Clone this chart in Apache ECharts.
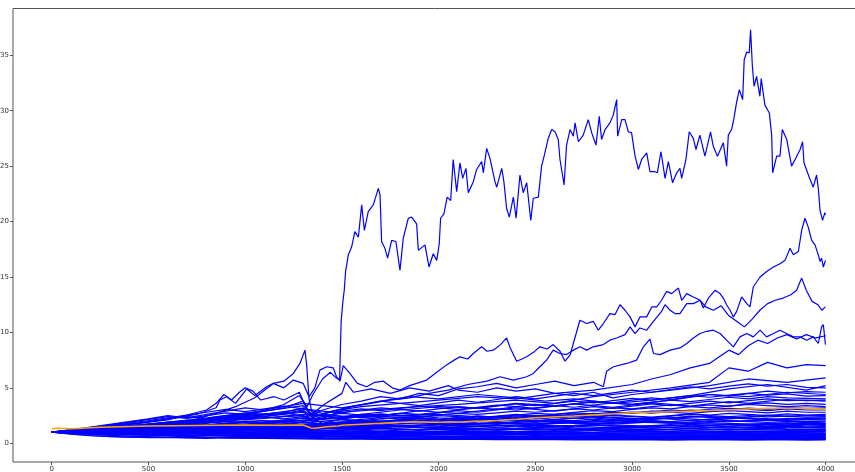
<!DOCTYPE html>
<html>
<head>
<meta charset="utf-8">
<script src="https://cdn.jsdelivr.net/npm/echarts@6/dist/echarts.min.js"></script>
<style>
  html, body { margin: 0; padding: 0; background: #fff; }
  #chart { width: 855px; height: 472px; }
</style>
</head>
<body>
<div id="chart"></div>
<script>
// Simulated price paths (step, value). Band paths share a 100-step grid.
const bandSteps = [0,100,200,300,400,500,600,700,800,900,1000,1100,1200,1300,1400,1500,1600,1700,1800,1900,2000,2100,2200,2300,2400,2500,2600,2700,2800,2900,3000,3100,3200,3300,3400,3500,3600,3700,3800,3900,4000];

const band01 = [1.0,0.85,0.7,0.62,0.55,0.5,0.52,0.48,0.45,0.5,0.47,0.44,0.42,0.4,0.38,0.4,0.37,0.36,0.38,0.35,0.34,0.36,0.35,0.33,0.34,0.32,0.33,0.31,0.32,0.3,0.31,0.3,0.29,0.3,0.31,0.3,0.29,0.3,0.3,0.29,0.3];
const band02 = [1.0,0.9,0.8,0.72,0.65,0.6,0.58,0.62,0.55,0.5,0.52,0.48,0.5,0.46,0.44,0.42,0.45,0.43,0.4,0.42,0.4,0.38,0.4,0.37,0.38,0.36,0.4,0.38,0.36,0.37,0.35,0.38,0.36,0.34,0.36,0.35,0.37,0.35,0.34,0.36,0.35];
const band03 = [1.0,0.95,0.88,0.8,0.85,0.78,0.7,0.66,0.7,0.64,0.6,0.62,0.58,0.55,0.5,0.48,0.52,0.5,0.47,0.45,0.48,0.46,0.44,0.42,0.45,0.43,0.41,0.44,0.42,0.4,0.43,0.41,0.39,0.42,0.4,0.41,0.38,0.4,0.42,0.39,0.4];
const band04 = [1.0,1.05,0.95,0.9,0.82,0.78,0.8,0.74,0.7,0.72,0.68,0.65,0.6,0.62,0.58,0.6,0.56,0.54,0.57,0.55,0.52,0.5,0.53,0.51,0.49,0.5,0.48,0.5,0.47,0.49,0.46,0.48,0.47,0.45,0.48,0.46,0.44,0.46,0.45,0.47,0.45];
const band05 = [1.0,0.92,0.85,0.78,0.74,0.7,0.72,0.66,0.7,0.68,0.65,0.7,0.66,0.62,0.65,0.6,0.62,0.58,0.6,0.57,0.55,0.58,0.56,0.53,0.55,0.52,0.54,0.56,0.53,0.5,0.52,0.55,0.52,0.5,0.53,0.51,0.49,0.52,0.5,0.51,0.5];
const band06 = [1.0,1.1,1.05,0.98,0.92,0.95,0.88,0.85,0.9,0.82,0.8,0.84,0.78,0.75,0.72,0.76,0.7,0.68,0.72,0.66,0.64,0.68,0.65,0.62,0.6,0.63,0.6,0.58,0.62,0.59,0.57,0.6,0.58,0.56,0.59,0.57,0.55,0.58,0.56,0.54,0.55];
const band07 = [1.0,0.98,0.9,0.86,0.8,0.76,0.72,0.75,0.7,0.66,0.68,0.64,0.62,0.66,0.63,0.6,0.64,0.62,0.65,0.63,0.6,0.62,0.66,0.64,0.61,0.63,0.6,0.65,0.62,0.6,0.63,0.61,0.64,0.62,0.6,0.63,0.61,0.59,0.62,0.6,0.6];
const band08 = [1.0,1.08,1.15,1.1,1.02,0.98,1.05,0.96,0.92,0.95,0.9,0.86,0.9,0.84,0.8,0.85,0.82,0.78,0.8,0.76,0.8,0.78,0.74,0.77,0.75,0.72,0.76,0.74,0.71,0.74,0.72,0.75,0.73,0.7,0.72,0.74,0.71,0.73,0.7,0.72,0.7];
const band09 = [1.0,0.94,0.9,0.95,0.88,0.84,0.9,0.86,0.82,0.85,0.8,0.78,0.82,0.79,0.76,0.8,0.84,0.8,0.77,0.8,0.78,0.82,0.79,0.76,0.8,0.78,0.75,0.79,0.77,0.8,0.78,0.75,0.78,0.76,0.74,0.77,0.75,0.78,0.76,0.74,0.75];
const band10 = [1.0,1.05,1.12,1.2,1.15,1.1,1.18,1.12,1.05,1.08,1.02,0.98,1.03,0.98,0.95,0.92,0.96,0.93,0.9,0.94,0.9,0.88,0.92,0.89,0.86,0.9,0.87,0.85,0.88,0.85,0.83,0.86,0.84,0.82,0.85,0.83,0.81,0.84,0.82,0.8,0.8];
const band11 = [1.0,0.96,1.02,0.98,1.05,1.0,0.95,1.0,1.06,1.02,0.98,1.04,1.0,0.96,1.0,0.97,0.94,0.98,0.95,0.99,0.96,0.93,0.97,0.94,0.91,0.95,0.92,0.96,0.93,0.9,0.94,0.92,0.89,0.93,0.91,0.88,0.92,0.9,0.93,0.91,0.9];
const band12 = [1.0,1.1,1.2,1.15,1.25,1.3,1.22,1.28,1.2,1.15,1.22,1.18,1.12,1.08,1.15,1.1,1.05,1.1,1.06,1.02,1.08,1.04,1.0,1.05,1.02,0.98,1.03,1.0,0.97,1.02,0.99,1.03,1.0,0.97,1.01,0.98,1.02,0.99,1.01,0.98,1.0];
const band13 = [1.0,0.92,0.88,0.94,0.9,0.96,0.92,0.98,1.04,1.0,0.95,1.0,1.05,1.1,1.04,1.08,1.02,0.98,1.04,1.0,1.06,1.02,1.08,1.12,1.06,1.1,1.05,1.1,1.14,1.08,1.12,1.06,1.1,1.14,1.08,1.12,1.07,1.11,1.08,1.12,1.1];
const band14 = [1.0,1.12,1.25,1.35,1.28,1.4,1.5,1.42,1.35,1.42,1.5,1.45,1.38,1.32,1.4,1.35,1.3,1.36,1.28,1.22,1.3,1.25,1.2,1.28,1.24,1.18,1.25,1.22,1.17,1.24,1.2,1.26,1.22,1.18,1.24,1.2,1.25,1.22,1.19,1.22,1.2];
const band15 = [1.0,0.95,1.02,1.08,1.0,1.06,1.12,1.05,1.1,1.18,1.12,1.06,1.12,1.2,1.15,1.22,1.16,1.1,1.18,1.25,1.2,1.14,1.2,1.27,1.22,1.3,1.24,1.18,1.25,1.32,1.27,1.2,1.26,1.33,1.28,1.24,1.3,1.35,1.3,1.26,1.3];
const band16 = [1.0,1.08,1.0,1.06,1.14,1.08,1.2,1.28,1.2,1.32,1.4,1.3,1.38,1.46,1.36,1.3,1.38,1.45,1.52,1.42,1.36,1.44,1.5,1.42,1.35,1.42,1.48,1.4,1.34,1.4,1.46,1.38,1.44,1.5,1.42,1.36,1.42,1.46,1.4,1.38,1.4];
const band17 = [1.0,1.15,1.3,1.42,1.55,1.48,1.62,1.7,1.6,1.52,1.6,1.68,1.58,1.5,1.56,1.64,1.55,1.48,1.55,1.62,1.7,1.6,1.52,1.58,1.66,1.56,1.5,1.57,1.62,1.54,1.48,1.55,1.6,1.52,1.46,1.52,1.58,1.5,1.54,1.48,1.5];
const band18 = [1.0,1.04,1.1,1.02,0.96,1.02,1.1,1.18,1.1,1.2,1.3,1.22,1.32,1.42,1.35,1.45,1.38,1.46,1.55,1.48,1.4,1.48,1.56,1.64,1.55,1.48,1.56,1.62,1.7,1.6,1.52,1.6,1.68,1.58,1.64,1.7,1.62,1.56,1.64,1.58,1.6];
const band19 = [1.0,1.12,1.2,1.3,1.22,1.35,1.45,1.55,1.48,1.6,1.7,1.62,1.55,1.62,1.72,1.82,1.75,1.66,1.74,1.85,1.78,1.7,1.78,1.88,1.8,1.72,1.8,1.9,1.82,1.74,1.82,1.92,1.85,1.78,1.86,1.8,1.72,1.78,1.84,1.76,1.75];
const band20 = [1.0,0.94,1.0,1.08,1.02,1.1,1.2,1.12,1.05,1.12,1.22,1.3,1.24,1.35,1.45,1.38,1.5,1.6,1.52,1.62,1.55,1.68,1.78,1.7,1.82,1.75,1.88,1.8,1.72,1.8,1.9,2.0,1.92,1.85,1.95,2.05,1.96,1.88,1.95,1.86,1.9];
const band21 = [1.0,1.1,1.22,1.15,1.3,1.42,1.55,1.48,1.62,1.75,1.68,1.8,1.92,1.85,1.75,1.85,1.98,1.9,1.8,1.72,1.82,1.95,1.85,1.78,1.88,2.0,2.1,2.0,1.92,2.02,2.12,2.05,1.96,2.06,2.15,2.05,1.98,2.08,2.0,1.95,2.0];
const band22 = [1.0,1.05,0.98,1.05,1.12,1.2,1.12,1.22,1.3,1.25,1.35,1.28,1.38,1.5,1.42,1.52,1.62,1.55,1.65,1.58,1.7,1.8,1.72,1.85,1.95,1.88,2.0,1.92,2.05,2.15,2.05,2.18,2.28,2.2,2.1,2.2,2.3,2.22,2.15,2.25,2.2];
const band23 = [1.0,1.15,1.28,1.4,1.55,1.68,1.8,1.7,1.85,2.0,2.15,2.05,1.95,2.1,2.25,2.15,2.05,2.2,2.35,2.25,2.15,2.3,2.45,2.35,2.25,2.4,2.55,2.45,2.35,2.5,2.4,2.3,2.45,2.6,2.5,2.4,2.5,2.38,2.45,2.35,2.4];
const band24 = [1.0,1.02,1.1,1.18,1.1,1.2,1.3,1.4,1.32,1.42,1.55,1.45,1.58,1.7,1.6,1.75,1.88,1.78,1.92,2.05,1.95,2.1,2.0,2.15,2.3,2.2,2.35,2.25,2.4,2.55,2.45,2.35,2.5,2.65,2.55,2.7,2.6,2.5,2.65,2.55,2.6];
const band25 = [1.0,1.12,1.25,1.38,1.3,1.45,1.6,1.75,1.65,1.82,2.0,1.9,2.1,2.25,2.1,2.0,2.15,2.3,2.2,2.35,2.5,2.4,2.3,2.45,2.6,2.5,2.4,2.55,2.7,2.6,2.75,2.9,2.8,2.7,2.85,2.95,2.85,2.75,2.9,2.8,2.8];
const band26 = [1.0,0.95,1.05,1.15,1.08,1.2,1.32,1.25,1.38,1.5,1.62,1.55,1.7,1.85,1.75,1.9,2.05,1.95,2.1,2.25,2.15,2.3,2.2,2.4,2.55,2.45,2.6,2.75,2.65,2.8,2.7,2.85,3.0,2.9,3.05,3.15,3.05,2.95,3.1,3.0,3.0];
const band27 = [1.0,1.15,1.3,1.45,1.6,1.75,1.9,2.05,1.95,2.15,2.35,2.25,2.45,2.6,2.45,2.3,2.5,2.65,2.5,2.4,2.55,2.7,2.6,2.75,2.9,2.8,2.95,3.1,3.0,3.2,3.1,3.3,3.45,3.3,3.2,3.35,3.5,3.4,3.3,3.4,3.3];
const band28 = [1.0,1.08,1.0,1.1,1.22,1.15,1.28,1.4,1.32,1.45,1.6,1.5,1.65,1.55,1.7,1.85,1.75,1.9,2.05,2.2,2.1,2.3,2.45,2.35,2.55,2.7,2.6,2.8,2.95,2.85,3.05,3.2,3.1,3.3,3.45,3.35,3.55,3.65,3.5,3.6,3.5];
const band29 = [1.0,1.2,1.4,1.6,1.5,1.7,1.9,2.1,2.0,2.25,2.5,2.35,2.2,2.4,2.6,2.45,2.3,2.5,2.7,2.55,2.75,2.95,2.8,3.0,3.2,3.05,2.9,3.1,3.3,3.15,3.35,3.55,3.4,3.6,3.8,3.65,3.85,4.0,3.85,3.9,3.8];
const band30 = [1.0,1.1,1.25,1.15,1.3,1.45,1.35,1.5,1.65,1.8,1.7,1.9,2.1,2.0,2.2,2.4,2.3,2.5,2.7,2.6,2.8,2.7,2.9,3.1,3.0,3.2,3.4,3.25,3.45,3.65,3.5,3.7,3.9,3.75,3.95,4.15,4.0,4.2,4.1,4.05,4.0];
const band31 = [1.0,1.15,1.35,1.55,1.75,1.95,2.2,2.4,2.25,2.5,2.75,2.6,2.85,3.1,2.9,2.75,3.0,3.2,3.05,2.9,3.1,3.3,3.15,3.35,3.55,3.4,3.6,3.8,3.65,3.85,4.05,3.9,4.1,4.3,4.15,4.35,4.5,4.35,4.45,4.25,4.3];
const band32 = [1.0,1.05,1.15,1.3,1.2,1.35,1.5,1.65,1.55,1.75,1.95,1.85,2.05,2.3,2.15,2.4,2.6,2.5,2.7,2.95,2.8,3.0,3.2,3.05,3.3,3.5,3.35,3.55,3.8,3.65,3.9,4.1,3.95,4.2,4.4,4.25,4.5,4.7,4.55,4.65,4.6];
const band33 = [1.0,1.2,1.45,1.7,1.95,2.2,2.5,2.3,2.6,2.9,3.2,3.0,3.3,3.6,3.4,3.2,3.5,3.8,3.6,3.4,3.65,3.9,3.7,3.95,4.2,4.0,4.25,4.5,4.3,4.55,4.8,4.6,4.85,5.1,4.9,5.15,5.35,5.15,5.3,5.05,5.0];
const band34 = [1.0,0.9,0.95,0.85,0.8,0.84,0.78,0.74,0.78,0.72,0.7,0.74,0.7,0.66,0.62,0.66,0.7,0.66,0.63,0.67,0.64,0.61,0.65,0.68,0.64,0.62,0.66,0.63,0.6,0.64,0.67,0.64,0.61,0.65,0.62,0.66,0.63,0.6,0.64,0.66,0.65];
const band35 = [1.0,1.1,1.02,1.12,1.05,0.98,1.06,1.0,0.94,1.0,0.95,0.9,0.96,0.92,0.88,0.93,0.9,0.86,0.91,0.88,0.92,0.89,0.86,0.9,0.87,0.84,0.88,0.85,0.89,0.86,0.83,0.87,0.84,0.88,0.85,0.82,0.86,0.84,0.87,0.85,0.85];
const band36 = [1.0,0.93,0.97,0.9,0.86,0.92,0.88,0.94,0.9,0.86,0.9,0.95,0.91,0.87,0.92,0.97,0.93,0.98,1.02,0.97,0.93,0.98,1.03,0.99,0.95,1.0,1.05,1.01,0.97,1.02,1.06,1.02,0.98,1.03,1.07,1.03,0.99,1.04,1.08,1.05,1.05];
const band37 = [1.0,1.06,1.14,1.08,1.16,1.24,1.18,1.1,1.17,1.25,1.19,1.12,1.2,1.28,1.22,1.15,1.22,1.3,1.24,1.17,1.24,1.31,1.25,1.19,1.26,1.32,1.26,1.2,1.27,1.33,1.27,1.21,1.28,1.34,1.28,1.22,1.28,1.32,1.26,1.23,1.25];
const band38 = [1.0,0.97,1.04,1.12,1.06,1.0,1.07,1.15,1.22,1.16,1.1,1.18,1.26,1.2,1.13,1.2,1.28,1.36,1.3,1.23,1.3,1.38,1.32,1.26,1.34,1.42,1.36,1.3,1.38,1.46,1.4,1.34,1.42,1.5,1.44,1.38,1.45,1.52,1.46,1.42,1.45];
const band39 = [1.0,1.08,1.18,1.28,1.2,1.3,1.4,1.32,1.42,1.52,1.44,1.36,1.45,1.55,1.47,1.4,1.48,1.58,1.5,1.42,1.5,1.6,1.52,1.45,1.54,1.64,1.56,1.48,1.57,1.67,1.59,1.51,1.6,1.7,1.62,1.55,1.64,1.73,1.66,1.72,1.7];
const band40 = [1.0,0.96,1.03,1.1,1.04,1.12,1.2,1.28,1.2,1.3,1.4,1.32,1.42,1.52,1.45,1.38,1.48,1.58,1.5,1.6,1.7,1.62,1.72,1.82,1.74,1.66,1.76,1.86,1.78,1.88,1.98,1.9,1.82,1.92,2.02,1.94,2.04,2.14,2.06,2.12,2.1];
const band41 = [1.0,1.14,1.3,1.46,1.38,1.55,1.72,1.62,1.8,1.98,1.88,1.78,1.9,2.05,1.95,1.82,1.95,2.1,2.0,1.9,2.02,2.18,2.08,1.98,2.1,2.25,2.15,2.05,2.18,2.34,2.24,2.14,2.28,2.44,2.34,2.24,2.38,2.54,2.44,2.52,2.5];
const band42 = [1.0,1.06,1.14,1.24,1.16,1.28,1.4,1.52,1.44,1.58,1.72,1.62,1.76,1.9,1.78,1.68,1.82,1.96,2.1,2.0,2.14,2.28,2.18,2.32,2.46,2.36,2.5,2.64,2.54,2.68,2.82,2.72,2.86,3.0,2.9,3.04,3.18,3.08,3.22,3.16,3.2];
const band43 = [1.0,1.18,1.38,1.6,1.82,2.05,2.3,2.55,2.8,3.05,2.85,3.1,3.35,3.1,2.7,2.9,3.1,2.95,3.15,3.35,3.2,3.05,3.25,3.45,3.3,3.15,3.35,3.55,3.4,3.25,3.45,3.65,3.5,3.35,3.55,3.75,3.6,3.8,3.95,3.85,3.9];
const band44 = [1.0,0.82,0.68,0.6,0.55,0.58,0.52,0.5,0.54,0.49,0.46,0.5,0.47,0.44,0.41,0.44,0.42,0.4,0.43,0.41,0.39,0.42,0.4,0.38,0.41,0.39,0.37,0.4,0.38,0.36,0.39,0.37,0.4,0.38,0.36,0.39,0.37,0.4,0.38,0.39,0.38];
const band45 = [1.0,1.16,1.32,1.46,1.6,1.74,1.66,1.78,1.9,1.8,1.7,1.8,1.72,1.62,1.52,1.6,1.5,1.42,1.5,1.4,1.32,1.4,1.32,1.24,1.32,1.24,1.17,1.24,1.17,1.11,1.18,1.12,1.06,1.13,1.08,1.03,1.1,1.05,1.12,1.1,1.15];
const band46 = [1.0,1.2,1.42,1.66,1.9,2.15,2.4,2.25,2.5,2.75,2.6,2.45,2.6,2.8,2.5,2.3,2.45,2.3,2.15,2.3,2.15,2.02,2.15,2.28,2.15,2.02,2.15,2.28,2.16,2.04,2.16,2.29,2.17,2.05,2.18,2.31,2.2,2.1,2.24,2.26,2.3];

// Paths that leave the band, read at irregular steps.
const pathEarlySpike = [[0,1],[150,1.2],[300,1.5],[450,1.8],[600,2.2],[750,2.6],[850,3.2],[870,3.9],[904,4.2],[950,3.6],[1008,4.9],[1050,4.3],[1111,5.1],[1145,5.4],[1200,5.6],[1249,6.3],[1283,7.2],[1309,8.4],[1318,7.0],[1330,4.0],[1345,2.8],[1400,2.5],[1500,2.7],[1700,2.4],[2000,2.6],[2300,2.3],[2600,2.5],[3000,2.2],[3400,2.4],[3800,2.1],[4000,2.2]];
const pathEarlyHump = [[0,1],[200,1.3],[400,1.7],[600,2.1],[800,3.0],[850,3.6],[890,4.4],[930,3.9],[970,4.6],[1000,5.0],[1040,4.7],[1080,3.9],[1150,4.2],[1200,3.9],[1280,4.6],[1320,3.0],[1360,2.0],[1420,2.4],[1500,2.2],[1700,2.6],[2000,2.3],[2500,2.0],[3000,1.9],[3500,1.7],[4000,1.8]];
const pathMid1 = [[0,1],[300,1.3],[700,1.9],[1000,2.6],[1200,3.2],[1300,3.8],[1340,2.5],[1400,3.4],[1500,4.5],[1520,5.5],[1560,4.6],[1650,4.9],[1750,4.5],[1850,5.0],[1950,4.7],[2050,5.2],[2100,4.8],[2200,4.6],[2300,5.0],[2400,4.7],[2500,4.9],[2600,4.5],[2700,4.3],[2800,4.6],[2900,4.1],[3000,4.4],[3200,4.8],[3400,5.2],[3600,5.8],[3800,5.5],[4000,5.9]];
const pathMid2 = [[0,1],[400,1.4],[800,2.0],[1100,2.4],[1300,2.9],[1350,1.9],[1450,2.6],[1550,3.3],[1700,3.8],[1850,4.2],[2000,4.0],[2200,4.4],[2400,4.1],[2550,3.8],[2700,4.0],[2900,3.6],[3100,3.9],[3300,4.3],[3500,4.9],[3700,5.3],[3900,4.8],[4000,5.2]];
const pathMid3 = [[0,1],[500,1.6],[1000,2.2],[1300,2.5],[1400,1.8],[1600,2.6],[1800,3.0],[2000,3.3],[2200,3.2],[2400,3.6],[2600,3.4],[2800,3.7],[3000,3.5],[3200,3.9],[3400,4.4],[3600,4.2],[3800,4.6],[4000,4.4]];
const pathMid4 = [[0,1],[400,1.5],[800,2.2],[1200,2.8],[1350,2.2],[1500,2.8],[1800,3.2],[2100,3.5],[2400,3.9],[2600,3.6],[2800,4.2],[3000,4.6],[3200,5.0],[3400,5.5],[3500,6.8],[3600,6.5],[3700,7.3],[3800,6.8],[3900,7.1],[4000,7.0]];
const pathHigh2 = [[0,1],[300,1.4],[600,1.8],[900,2.4],[1100,2.9],[1300,3.4],[1350,2.4],[1450,2.9],[1600,3.3],[1800,3.6],[2000,3.9],[2200,4.2],[2400,4.0],[2600,4.5],[2800,4.8],[3000,5.3],[3100,5.8],[3200,6.2],[3300,6.8],[3400,7.2],[3450,7.8],[3500,8.4],[3550,8.0],[3600,8.8],[3650,9.3],[3700,9.0],[3750,9.5],[3800,9.8],[3850,9.4],[3900,9.8],[3950,9.5],[4000,9.7]];
const pathHigh1 = [[0,1],[200,1.15],[400,1.4],[600,1.7],[800,2.1],[1000,2.5],[1200,2.8],[1300,3.2],[1350,2.6],[1400,3.0],[1500,3.5],[1600,3.8],[1700,4.2],[1800,4.0],[1900,4.5],[2000,4.3],[2100,4.9],[2200,5.1],[2300,5.4],[2400,5.0],[2500,5.3],[2600,5.6],[2700,5.2],[2800,5.5],[2851,5.1],[2868,6.5],[2903,6.9],[2972,7.2],[3023,7.5],[3058,8.7],[3092,9.4],[3110,8.1],[3144,8.0],[3196,8.4],[3247,8.6],[3282,9.0],[3316,9.5],[3351,9.9],[3385,10.1],[3420,10.2],[3454,9.9],[3488,9.3],[3523,8.7],[3557,9.6],[3592,9.9],[3626,9.6],[3661,10.2],[3695,9.6],[3730,9.9],[3764,10.2],[3798,9.9],[3833,9.6],[3867,9.6],[3902,9.3],[3936,9.6],[3962,9.0],[3979,10.5],[3988,10.7],[3999,8.9]];
const pathThird = [[0,1],[200,1.2],[400,1.45],[600,1.7],[800,2.0],[1000,2.4],[1200,2.7],[1300,3.0],[1350,2.3],[1450,2.9],[1550,3.3],[1650,3.6],[1750,3.9],[1850,4.1],[1950,4.5],[2050,4.8],[2150,5.3],[2250,5.6],[2317,6.0],[2386,5.7],[2455,6.0],[2489,6.3],[2523,6.9],[2558,7.5],[2592,8.4],[2627,8.1],[2661,8.0],[2696,8.4],[2730,8.7],[2765,8.4],[2799,8.7],[2851,8.9],[2885,9.3],[2920,9.5],[2963,9.8],[2989,10.5],[3015,9.9],[3040,10.4],[3075,10.2],[3110,11.0],[3152,11.9],[3170,12.5],[3196,12.0],[3221,11.7],[3247,11.7],[3282,12.6],[3316,12.6],[3351,12.9],[3380,12.3],[3420,12.0],[3460,12.4],[3500,11.5],[3540,11.0],[3580,10.5],[3620,11.2],[3660,12.0],[3700,12.6],[3740,12.9],[3780,13.1],[3820,13.4],[3850,13.8],[3876,14.9],[3900,13.8],[3930,12.8],[3960,12.5],[3980,12.0],[3999,12.3]];
const pathSecond = [[0,1],[150,1.15],[300,1.3],[450,1.5],[600,1.8],[750,2.2],[850,2.7],[950,3.3],[1050,4.1],[1145,5.4],[1200,5.0],[1249,5.7],[1300,5.4],[1330,4.2],[1360,5.0],[1386,6.6],[1421,6.9],[1455,6.8],[1472,6.0],[1490,5.6],[1507,7.0],[1541,6.3],[1580,5.4],[1628,5.1],[1670,5.5],[1714,5.6],[1760,5.0],[1800,4.8],[1850,5.2],[1886,5.4],[1938,5.7],[1990,6.4],[2041,7.07],[2080,7.5],[2110,7.8],[2150,7.6],[2179,8.1],[2222,8.7],[2250,8.3],[2282,8.4],[2320,8.9],[2351,9.5],[2370,8.6],[2403,7.4],[2430,7.6],[2455,7.8],[2490,8.2],[2523,8.7],[2560,8.5],[2592,8.9],[2627,8.3],[2653,7.4],[2680,8.0],[2696,9.0],[2730,11.1],[2765,10.8],[2799,11.0],[2825,10.2],[2851,10.8],[2885,11.7],[2911,11.6],[2937,12.5],[2963,12.0],[2989,11.4],[3015,10.5],[3040,11.4],[3075,11.4],[3101,12.3],[3127,12.3],[3152,12.9],[3178,13.7],[3204,13.5],[3239,14.0],[3256,12.9],[3282,13.5],[3316,13.2],[3351,12.9],[3368,12.2],[3394,13.1],[3428,13.8],[3454,13.5],[3471,13.1],[3488,12.5],[3506,12.0],[3523,11.4],[3540,11.9],[3566,13.2],[3592,12.6],[3609,12.3],[3626,14.1],[3661,15.0],[3695,15.5],[3730,15.9],[3764,16.2],[3790,16.5],[3816,17.6],[3833,17.0],[3859,17.3],[3876,19.2],[3893,20.3],[3910,19.5],[3928,18.3],[3945,17.9],[3962,17.0],[3971,16.4],[3979,16.7],[3988,15.9],[3999,16.5]];
const pathTop = [[0,1.0],[100,1.1],[250,1.35],[400,1.5],[550,1.75],[700,2.0],[850,2.4],[1000,2.7],[1100,3.0],[1200,3.5],[1280,4.3],[1320,3.3],[1350,4.4],[1400,5.8],[1440,6.4],[1470,5.9],[1488,5.7],[1492,8.5],[1496,11.0],[1505,12.8],[1512,13.8],[1519,15.5],[1533,17.0],[1550,17.7],[1567,19.1],[1585,18.6],[1602,21.5],[1616,19.2],[1636,20.9],[1662,21.5],[1688,23.0],[1697,22.4],[1705,18.2],[1722,17.6],[1736,16.7],[1757,18.3],[1779,18.2],[1800,15.6],[1817,18.5],[1843,20.3],[1860,20.4],[1886,19.8],[1895,17.4],[1929,17.9],[1950,15.9],[1972,17.1],[1990,16.5],[2003,18.0],[2010,20.3],[2027,20.7],[2044,22.2],[2062,21.9],[2075,25.6],[2093,22.7],[2110,25.3],[2124,23.9],[2141,24.8],[2153,22.6],[2179,23.6],[2196,24.7],[2222,25.4],[2231,24.4],[2248,26.6],[2265,25.7],[2291,23.6],[2300,23.1],[2326,24.8],[2337,23.6],[2351,21.2],[2365,20.4],[2386,22.2],[2400,20.3],[2420,24.2],[2437,22.6],[2455,23.5],[2476,20.1],[2489,22.1],[2515,22.2],[2532,25.0],[2549,26.2],[2566,27.5],[2584,28.3],[2601,28.1],[2618,27.4],[2627,25.6],[2648,23.3],[2661,26.9],[2679,28.3],[2696,27.7],[2705,28.9],[2722,27.2],[2747,27.8],[2773,29.2],[2791,28.0],[2813,26.9],[2830,29.5],[2842,27.4],[2860,28.3],[2885,28.9],[2902,29.6],[2920,31.0],[2925,27.7],[2946,29.2],[2963,29.2],[2980,28.1],[2997,28.0],[3014,26.0],[3032,24.7],[3049,25.6],[3075,26.2],[3092,24.5],[3118,24.5],[3130,24.4],[3149,26.3],[3170,23.9],[3187,25.4],[3209,23.5],[3230,24.4],[3247,24.8],[3256,23.9],[3278,25.6],[3295,28.1],[3316,27.5],[3330,26.5],[3350,27.8],[3376,25.9],[3405,28.1],[3419,26.8],[3441,25.9],[3471,27.1],[3488,25.0],[3497,27.8],[3514,28.3],[3526,29.3],[3540,30.8],[3554,31.9],[3571,31.0],[3579,34.6],[3592,35.3],[3605,35.2],[3612,37.3],[3621,34.1],[3630,32.2],[3643,33.1],[3660,31.3],[3667,32.9],[3686,30.5],[3709,29.8],[3721,27.8],[3726,24.4],[3747,25.9],[3764,25.9],[3776,28.3],[3799,27.4],[3824,25.0],[3842,25.6],[3868,26.5],[3881,27.2],[3888,25.3],[3915,24.0],[3936,23.1],[3953,24.2],[3962,23.0],[3971,21.0],[3984,20.1],[3996,20.8],[3999,20.6]];

// Average across all paths.
const meanPath = [[0,1.3],[30,1.35],[100,1.3],[250,1.45],[500,1.55],[750,1.6],[1000,1.65],[1150,1.62],[1300,1.65],[1340,1.38],[1360,1.35],[1420,1.5],[1480,1.55],[1500,1.62],[1600,1.72],[1700,1.8],[1870,1.95],[2000,1.9],[2130,1.95],[2300,2.05],[2411,2.16],[2500,2.3],[2700,2.45],[3000,2.76],[3200,2.85],[3480,3.0],[3600,3.1],[3700,3.16],[3900,3.15],[4000,3.07]];

const xTicks = [0,500,1000,1500,2000,2500,3000,3500,4000];
const yTicks = [0,5,10,15,20,25,30,35];

const bandValues = [band01,band02,band03,band04,band05,band06,band07,band08,band09,band10,band11,band12,band13,band14,band15,band16,band17,band18,band19,band20,band21,band22,band23,band24,band25,band26,band27,band28,band29,band30,band31,band32,band33,band34,band35,band36,band37,band38,band39,band40,band41,band42,band43,band44,band45,band46];
const bandPaths = bandValues.map(vals => vals.map((v, i) => [bandSteps[i], v]));
const allPaths = bandPaths.concat([pathEarlySpike, pathEarlyHump, pathMid1, pathMid2, pathMid3, pathMid4, pathHigh2, pathHigh1, pathThird, pathSecond, pathTop]);

const series = allPaths.map(p => ({
  type: 'line', data: p, symbol: 'none', silent: true,
  lineStyle: { color: '#0000ff', width: 1.2 }, z: 2
}));
series.push({
  type: 'line', data: meanPath, symbol: 'none', silent: true,
  lineStyle: { color: '#ffa500', width: 1.5 }, z: 5
});

const axisText = { fontFamily: 'DejaVu Sans', fontSize: 7, color: '#333', formatter: v => String(v) };

const chart = echarts.init(document.getElementById('chart'), null, { renderer: 'canvas' });
chart.setOption({
  animation: false,
  backgroundColor: '#fff',
  grid: {
    left: 13, right: -2, top: 8.5, bottom: 10,
    containLabel: false, outerBoundsMode: 'none',
    show: true, borderColor: '#555', borderWidth: 1, backgroundColor: 'transparent'
  },
  xAxis: {
    type: 'value', min: -200, max: 4162,
    axisLine: { show: false, onZero: false },
    splitLine: { show: false },
    axisTick: { show: true, length: 3, lineStyle: { color: '#555' }, customValues: xTicks },
    axisLabel: Object.assign({ margin: 4, customValues: xTicks }, axisText)
  },
  yAxis: {
    type: 'value', min: -1.69, max: 39.22,
    axisLine: { show: false, onZero: false },
    splitLine: { show: false },
    axisTick: { show: true, length: 3, lineStyle: { color: '#555' }, customValues: yTicks },
    axisLabel: Object.assign({ margin: 4, customValues: yTicks }, axisText)
  },
  series: series
});
</script>
</body>
</html>
